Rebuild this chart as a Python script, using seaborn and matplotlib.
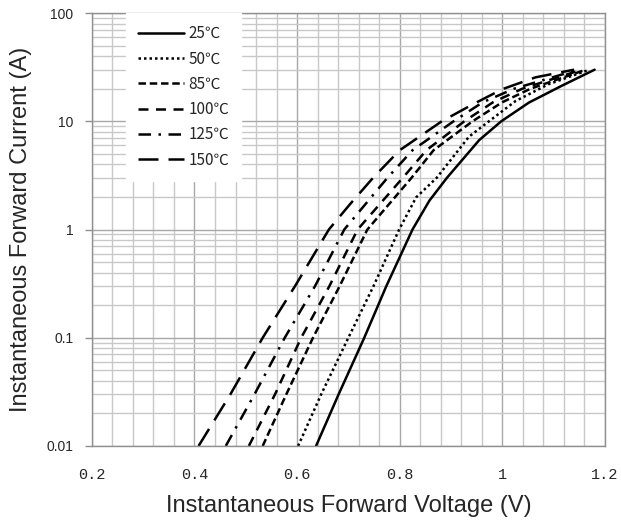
import pandas as pd
import seaborn as sns
import matplotlib.pyplot as plt
from matplotlib.ticker import LogLocator, MultipleLocator, FixedLocator, FixedFormatter, NullFormatter

# Points: forward voltage (V) and current (A)
v_25 = [0.637, 0.681, 0.731, 0.774, 0.825, 0.858, 0.892, 0.955, 0.998, 1.052, 1.116, 1.180]
i_25 = [0.01, 0.03, 0.1, 0.3, 1, 1.85, 3, 6.7, 10, 14.9, 21.3, 30]
v_50 = [0.602, 0.647, 0.700, 0.749, 0.799, 0.832, 0.872, 0.935, 0.974, 1.026, 1.090, 1.170]
i_50 = [0.01, 0.03, 0.1, 0.3, 1, 1.98, 3, 7.2, 10, 15.4, 22, 30]
v_85 = [0.533, 0.579, 0.631, 0.683, 0.737, 0.823, 0.866, 0.942, 1.000, 1.055, 1.163]
i_85 = [0.01, 0.03, 0.1, 0.3, 1, 3, 5.4, 10, 15, 20, 30]
v_100 = [0.506, 0.557, 0.608, 0.663, 0.718, 0.806, 0.852, 0.926, 0.982, 1.039, 1.155]
i_100 = [0.01, 0.03, 0.1, 0.3, 1, 3, 5.4, 10, 15, 20, 30]
v_125 = [0.461, 0.517, 0.576, 0.635, 0.692, 0.776, 0.825, 0.905, 0.962, 1.023, 1.148]
i_125 = [0.01, 0.03, 0.1, 0.3, 1, 3, 5.4, 10, 15, 20, 30]
v_150 = [0.408, 0.470, 0.533, 0.596, 0.662, 0.703, 0.748, 0.800, 0.882, 0.942, 1.000, 1.065, 1.140]
i_150 = [0.01, 0.03, 0.1, 0.3, 1, 1.71, 3, 5.4, 10, 14.3, 19.8, 25.5, 30]

labels = ["25℃", "50℃", "85℃", "100℃", "125℃", "150℃"]
series = [(v_25, i_25), (v_50, i_50), (v_85, i_85),
          (v_100, i_100), (v_125, i_125), (v_150, i_150)]

x_ticks = [0.2, 0.4, 0.6, 0.8, 1.0, 1.2]
x_tick_labels = ["0.2", "0.4", "0.6", "0.8", "1", "1.2"]
y_ticks = [0.01, 0.1, 1, 10, 100]
y_tick_labels = ["0.01", "0.1", "1", "10", "100"]

rows = []
for lab, (volts, amps) in zip(labels, series):
    for v, i in zip(volts, amps):
        rows.append({"temp": lab, "voltage": v, "current": i})
df = pd.DataFrame(rows)

sns.set_theme(style="white")
plt.rcParams["font.family"] = ["Liberation Sans", "DejaVu Sans"]

fig, ax = plt.subplots(figsize=(6.21, 5.24), dpi=100)
fig.subplots_adjust(left=0.148, right=0.974, top=0.975, bottom=0.149)

dashes = {
    "25℃": "",
    "50℃": (1, 1.2),
    "85℃": (3, 1.5),
    "100℃": (4, 3),
    "125℃": (5, 3, 1, 3),
    "150℃": (8, 4),
}
sns.lineplot(
    data=df, x="voltage", y="current", hue="temp", style="temp",
    palette=["black"] * 6, dashes=dashes, linewidth=1.8,
    estimator=None, sort=False, ax=ax,
)

ax.set_yscale("log")
ax.set_xlim(0.2, 1.2)
ax.set_ylim(0.01, 100)

ax.xaxis.set_major_locator(FixedLocator(x_ticks))
ax.xaxis.set_major_formatter(FixedFormatter(x_tick_labels))
ax.xaxis.set_minor_locator(MultipleLocator(0.04))
ax.yaxis.set_major_locator(FixedLocator(y_ticks))
ax.yaxis.set_major_formatter(FixedFormatter(y_tick_labels))
ax.yaxis.set_minor_locator(LogLocator(base=10, subs=range(2, 10)))
ax.yaxis.set_minor_formatter(NullFormatter())

ax.grid(which="major", color="#a8a8a8", linewidth=1.0)
ax.grid(which="minor", color="#c8c8c8", linewidth=1.0)
ax.set_axisbelow(True)

ax.tick_params(axis="x", which="both", length=0, pad=16, labelsize=11)
for t in ax.get_xticklabels():
    t.set_fontfamily("Liberation Mono")
ax.tick_params(axis="y", which="major", length=5, width=1, color="#909090",
               direction="out", left=True, pad=8.5, labelsize=10)
ax.tick_params(axis="y", which="minor", length=0)

for s in ax.spines.values():
    s.set_color("#909090")
    s.set_linewidth(1.0)

ax.set_xlabel("Instantaneous Forward Voltage (V)", fontsize=17, labelpad=9)
ax.set_ylabel("Instantaneous Forward Current (A)", fontsize=17, labelpad=10)

leg = ax.legend(
    loc="upper left", bbox_to_anchor=(0.067, 1.0), borderaxespad=0,
    frameon=True, fancybox=False, framealpha=1, edgecolor="white",
    handlelength=2.95, handletextpad=0.3, labelspacing=0.54,
    fontsize=11, borderpad=0.8,
)
for t in leg.get_texts():
    t.set_fontfamily(["Noto Sans CJK SC", "DejaVu Sans"])

fig.savefig("out.png", dpi=100)
plt.close(fig)
